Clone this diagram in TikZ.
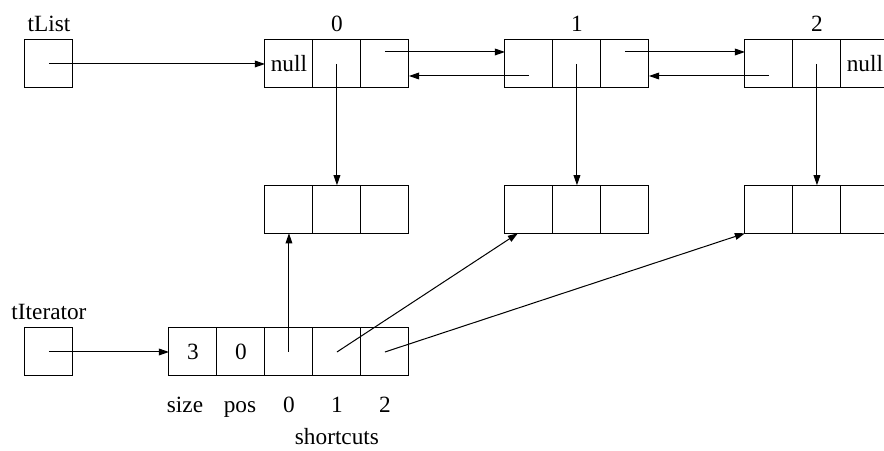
\documentclass[tikz,border=0pt]{standalone}
\usepackage{fontspec}
\setmainfont{Liberation Serif}
\usepackage{tikz}
\usetikzlibrary{arrows.meta,positioning,calc}
\tikzset{cell/.style={draw, minimum size=1cm, inner sep=0pt, outer sep=0pt}}
\tikzset{plain label/.style={inner sep=0pt, anchor=base}}

\begin{document}
\begin{tikzpicture}[->,>={Triangle[length=6pt,width=4pt]},semithick,
					label distance=1.5pt, font=\fontsize{13.8}{16}\selectfont]
					\clip (0,0) rectangle (18.4167,-9.375);
					% list head and the three list nodes
					\node[cell, label={above:tList}] at (1.02,-1.333) (tl) {};
					\node[cell] at (6.02,-1.333) (n0a) {null};
					\node[cell, label={above:0}] at (7.02,-1.333) (n0b) {};
					\node[cell] at (8.02,-1.333) (n0c) {};
					\node[cell] at (11.02,-1.333) (n1a) {};
					\node[cell, label={above:1}] at (12.02,-1.333) (n1b) {};
					\node[cell] at (13.02,-1.333) (n1c) {};
					\node[cell] at (16.02,-1.333) (n2a) {};
					\node[cell, label={above:2}] at (17.02,-1.333) (n2b) {};
					\node[cell] at (18.02,-1.333) (n2c) {null};
					% data records
					\node[cell] at (6.02,-4.36) (d0a) {};
					\node[cell] at (7.02,-4.36) (d0b) {};
					\node[cell] at (8.02,-4.36) (d0c) {};
					\node[cell] at (11.02,-4.36) (d1a) {};
					\node[cell] at (12.02,-4.36) (d1b) {};
					\node[cell] at (13.02,-4.36) (d1c) {};
					\node[cell] at (16.02,-4.36) (d2a) {};
					\node[cell] at (17.02,-4.36) (d2b) {};
					\node[cell] at (18.02,-4.36) (d2c) {};
					% iterator
					\node[cell, label={above:tIterator}] at (1.02,-7.333) (ti) {};
					\node[cell] at (4.02,-7.333) (it1) {3};
					\node[cell] at (5.02,-7.333) (it2) {0};
					\node[cell] at (6.02,-7.333) (it3) {};
					\node[cell] at (7.02,-7.333) (it4) {};
					\node[cell] at (8.02,-7.333) (it5) {};
					\node[plain label] at (3.854,-8.604) (lsize) {size};
					\node[plain label] at (5.0,-8.604) (lpos) {pos};
					\node[plain label] at (6.02,-8.604) (lsc0) {0};
					\node[plain label] at (7.02,-8.604) (lsc1) {1};
					\node[plain label] at (8.02,-8.604) (lsc2) {2};
					\node[plain label] at (7.02,-9.27) (lsc) {shortcuts};
					% links
					\path (tl.center) edge (n0a.west);
					\path ([yshift=0.25cm]n0c.center) edge ([yshift=0.25cm]n1a.west);
					\path ([yshift=-0.25cm]n1a.center) edge ([yshift=-0.25cm]n0c.east);
					\path ([yshift=0.25cm]n1c.center) edge ([yshift=0.25cm]n2a.west);
					\path ([yshift=-0.25cm]n2a.center) edge ([yshift=-0.25cm]n1c.east);
					\path (n0b.center) edge (d0b.north);
					\path (n1b.center) edge (d1b.north);
					\path (n2b.center) edge (d2b.north);
					\path (ti.center) edge (it1.west);
					\path (it3.center) edge (d0a.south);
					\path (it4.center) edge ([xshift=0.27cm]d1a.south west);
					\path (it5.center) edge (d2a.south west);
				\end{tikzpicture}
\end{document}
